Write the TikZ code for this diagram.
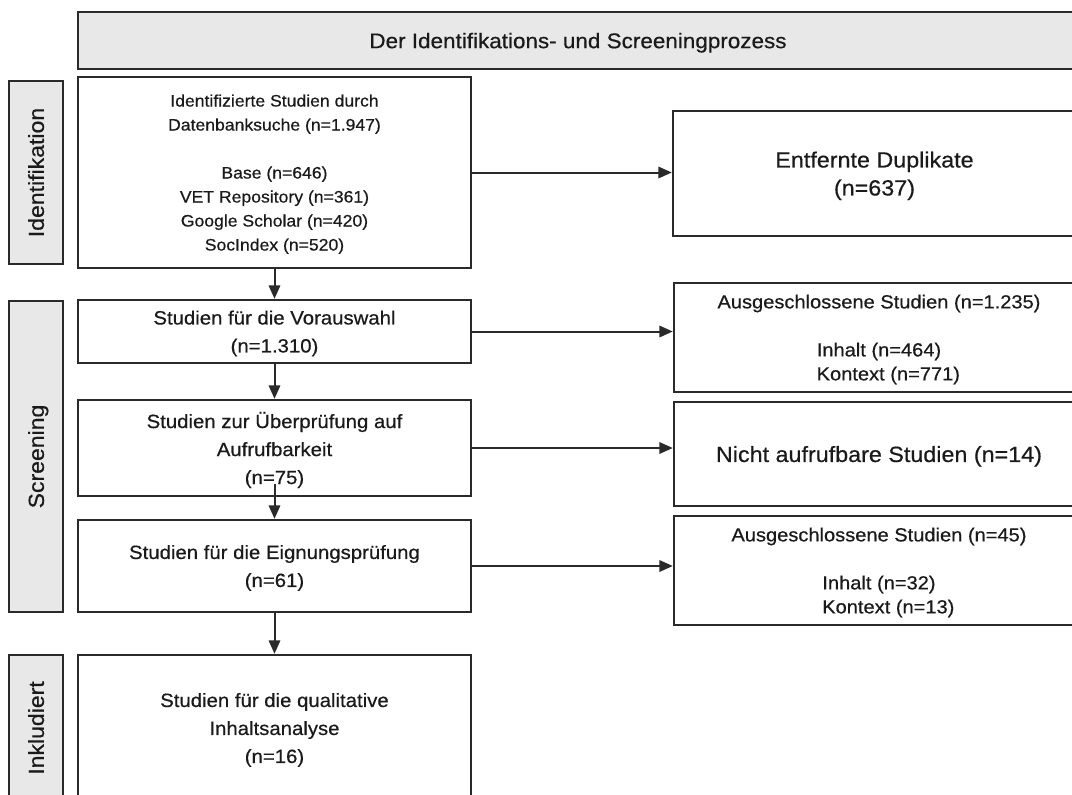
\documentclass[tikz,border=0pt]{standalone}
\usepackage{fontspec}
\setmainfont[FakeStretch=1.06,FakeBold=0.5]{Liberation Sans}
\usetikzlibrary{arrows.meta}
\definecolor{linec}{HTML}{2A2A2A}
\definecolor{bannerfill}{HTML}{E8E8E8}
\definecolor{txt}{HTML}{1A1A1A}
\tikzset{
  box/.style={draw=linec, line width=1.8pt, inner sep=0pt, align=center, text=txt, text depth=-2pt},
  graybox/.style={box, fill=bannerfill},
  sz/.style 2 args={minimum width=#1*0.75pt, minimum height=#2*0.75pt},
  arr/.style={-{Triangle[length=10pt,width=8.5pt]}, draw=linec, line width=1.5pt},
  fsmall/.style={font=\fontsize{12.45}{18}\selectfont},
  fexcl/.style={font=\fontsize{14.2}{18}\selectfont},
  fmed/.style={font=\fontsize{14.4}{21}\selectfont},
  flarge/.style={font=\fontsize{16.5}{21}\selectfont},
  fbanner/.style={font=\fontsize{15.9}{19}\selectfont},
  flabel/.style={font=\fontsize{16.3}{19}\selectfont},
}
\begin{document}
\begin{tikzpicture}[x=0.75pt,y=-0.75pt]
\path[use as bounding box, clip] (0,0) rectangle (1072,794);
\fill[white] (0,0) rectangle (1072,794);

% banner
\node[graybox, fbanner, sz={1000}{57}] (banner) at (578,40.5) {Der Identifikations- und Screeningprozess};

% phase labels
\node[graybox, flabel, rotate=90, sz={183}{54}] (lI) at (36,172.5) {Identifikation};
\node[graybox, flabel, rotate=90, sz={311}{54}] (lS) at (36,456.5) {Screening};
\node[graybox, flabel, rotate=90, sz={146}{54}] (lK) at (36,728) {Inkludiert};

% main column
\node[box, fsmall, sz={393}{191}] (b1) at (274.5,172.5) {Identifizierte Studien durch\\Datenbanksuche (n=1.947)\\[18pt]Base (n=646)\\VET Repository (n=361)\\Google Scholar (n=420)\\SocIndex (n=520)};
\node[box, fmed, sz={393}{63}] (b2) at (274.5,331.5) {Studien für die Vorauswahl\\(n=1.310)};
\node[box, fmed, sz={393}{96}] (b3) at (274.5,448) {Studien zur Überprüfung auf\\Aufrufbarkeit\\(n=75)};
\node[box, fmed, sz={393}{92}] (b4) at (274.5,566) {Studien für die Eignungsprüfung\\(n=61)};
\node[box, fmed, sz={393}{146}] (b5) at (274.5,728) {Studien für die qualitative\\Inhaltsanalyse\\(n=16)};

% right column
\node[box, flarge, sz={403}{125}] (r1) at (874.5,173.5) {Entfernte Duplikate\\(n=637)};
\node[box, fexcl, sz={410}{109}] (r2) at (879,337.5) {Ausgeschlossene Studien (n=1.235)\\[18pt]Inhalt (n=464)\\\hspace*{14pt}Kontext (n=771)};
\node[box, flarge, sz={410}{104}] (r3) at (879,454) {Nicht aufrufbare Studien (n=14)};
\node[box, fexcl, sz={410}{109}] (r4) at (879,570.5) {Ausgeschlossene Studien (n=45)\\[18pt]Inhalt (n=32)\\\hspace*{14pt}Kontext (n=13)};

% vertical flow
\draw[arr] (b1) -- (b2);
\draw[arr] (b2) -- (b3);
\draw[arr] ([yshift=9.75pt]b3.south) -- (b4.north);
\draw[arr] (b4) -- (b5);

% exclusions
\draw[arr] (b1.east) -- (b1.east -| r1.west);
\draw[arr] (b2.east) -- (b2.east -| r2.west);
\draw[arr] (b3.east) -- (b3.east -| r3.west);
\draw[arr] (b4.east) -- (b4.east -| r4.west);
\end{tikzpicture}
\end{document}
